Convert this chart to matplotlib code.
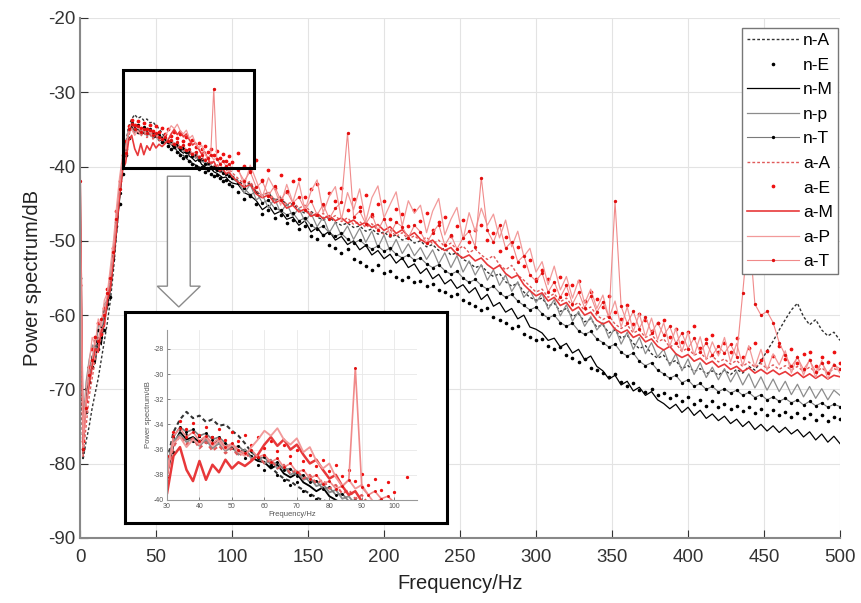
import matplotlib
matplotlib.use("Agg")
import matplotlib.pyplot as plt
from matplotlib.patches import Rectangle, FancyArrow

plt.rcParams['font.family'] = ['Liberation Sans', 'DejaVu Sans']
plt.rcParams['axes.unicode_minus'] = False

# Frequency grid (Hz)
freq = [0, 2, 4, 6, 8, 10, 12, 14, 16, 18, 20, 22, 24, 26, 28, 30, 32, 34, 36, 38,
        40, 42, 44, 46, 48, 50, 52, 54, 56, 58, 60, 62, 64, 66, 68, 70, 72, 74, 76, 78,
        80, 82, 84, 86, 88, 90, 92, 94, 96, 98, 100,
        104, 108, 112, 116, 120, 124, 128, 132, 136, 140,
        144, 148, 152, 156, 160, 164, 168, 172, 176, 180,
        184, 188, 192, 196, 200, 204, 208, 212, 216, 220,
        224, 228, 232, 236, 240, 244, 248, 252, 256, 260,
        264, 268, 272, 276, 280, 284, 288, 292, 296, 300,
        304, 308, 312, 316, 320, 324, 328, 332, 336, 340,
        344, 348, 352, 356, 360, 364, 368, 372, 376, 380,
        384, 388, 392, 396, 400, 404, 408, 412, 416, 420,
        424, 428, 432, 436, 440, 444, 448, 452, 456, 460,
        464, 468, 472, 476, 480, 484, 488, 492, 496, 500]

n_A = [-62, -79.5, -77, -75, -72.5, -70.5, -68.5, -66, -63.5, -61, -58, -54, -49, -44, -39.5, -37.0, -34.6, -33.6, -33.0, -33.5,
       -33.3, -33.8, -33.6, -34.1, -34.0, -34.5, -34.9, -35.5, -36.2, -36.6, -37.0, -37.4, -37.9, -38.3, -38.5, -38.9, -39.2, -39.5, -39.8, -40.0,
       -40.2, -40.1, -40.4, -40.3, -40.6, -40.5, -40.8, -40.7, -41.0, -40.9, -41.2,
       -41.9, -42.6, -42.2, -43.4, -43.9, -43.5, -44.6, -44.2, -45.2, -45.0,
       -45.8, -46.3, -46.0, -46.8, -47.2, -46.8, -47.5, -47.9, -47.6, -48.2,
       -48.0, -48.7, -48.4, -49.1, -48.8, -49.5, -49.2, -49.9, -49.6, -50.3,
       -50.0, -50.8, -50.5, -51.3, -51.0, -51.9, -51.6, -52.5, -52.9, -53.6,
       -53.3, -54.2, -54.8, -54.4, -55.5, -56.1, -55.7, -56.9, -57.6, -58.0,
       -57.7, -58.8, -58.4, -59.5, -59.1, -60.2, -59.8, -60.9, -60.5, -61.6,
       -61.3, -62.4, -62.0, -63.1, -62.7, -63.8, -64.5, -64.1, -65.2, -65.8,
       -65.4, -66.5, -66.1, -67.2, -66.8, -67.6, -67.2, -67.9, -67.5, -68.1,
       -67.4, -68.0, -67.3, -67.8, -66.9, -67.4, -66.2, -64.8, -63.5, -62.0,
       -60.6, -59.3, -58.4, -60.2, -61.3, -60.6, -62.0, -62.8, -62.3, -63.4]

n_E = [-55, -78, -73, -69, -67, -64, -64.5, -61.5, -62, -58.5, -57.5, -52.5, -48, -45, -41, -38.5, -36.2, -34.4, -34.8, -35.3,
       -34.9, -35.4, -35.0, -35.5, -35.9, -35.6, -36.3, -36.7, -36.5, -37.2, -37.6, -37.3, -38.0, -38.4, -38.8, -38.6, -39.3, -39.6, -39.9, -40.3,
       -40.1, -40.7, -40.5, -41.0, -41.3, -41.1, -41.6, -42.0, -41.8, -42.4, -42.6,
       -43.4, -44.3, -43.9, -45.1, -46.4, -45.8, -46.9, -46.5, -47.6, -47.2,
       -48.4, -48.0, -49.3, -49.8, -49.2, -50.5, -50.9, -51.6, -51.1, -52.4,
       -52.9, -53.4, -53.9, -53.2, -54.3, -54.0, -54.8, -55.3, -54.9, -55.6,
       -55.4, -56.1, -55.8, -56.6, -56.9, -57.4, -57.1, -57.9, -58.4, -58.8,
       -59.3, -59.0, -60.2, -60.6, -61.1, -61.7, -61.4, -62.5, -62.9, -63.4,
       -63.2, -64.1, -64.6, -64.3, -65.4, -65.8, -66.3, -65.9, -67.1, -67.4,
       -67.8, -68.3, -67.9, -69.0, -69.5, -69.1, -70.1, -70.4, -69.9, -70.8,
       -70.5, -71.2, -70.8, -71.6, -71.0, -71.9, -71.4, -72.2, -71.6, -72.4,
       -71.9, -72.6, -72.2, -72.9, -72.4, -73.2, -72.6, -73.4, -72.8, -73.5,
       -73.0, -73.7, -73.2, -73.9, -73.3, -74.1, -73.5, -74.3, -73.7, -74.0]

n_M = [-51, -77, -71, -68.5, -65.5, -66.5, -63, -64, -60.5, -59, -56.5, -53, -49, -44.5, -40.5, -38, -35.6, -34.6, -35.2, -35.0,
       -35.4, -35.1, -35.6, -35.3, -35.8, -35.6, -36.2, -36.0, -36.6, -36.9, -37.0, -37.5, -37.2, -37.9, -38.2, -37.9, -38.6, -38.9, -39.3, -39.0,
       -39.7, -40.0, -40.3, -40.1, -40.7, -40.9, -41.2, -41.5, -41.4, -41.9, -42.2,
       -42.4, -43.5, -43.9, -44.6, -45.8, -45.2, -46.4, -46.0, -47.1, -46.8,
       -47.9, -47.3, -48.8, -48.2, -49.3, -48.7, -49.9, -49.4, -50.5, -50.0,
       -51.2, -50.6, -51.9, -51.3, -52.4, -51.8, -53.0, -52.3, -53.6, -53.1,
       -54.4, -53.7, -55.1, -54.5, -55.8, -55.2, -56.4, -55.9, -57.0, -56.3,
       -57.9, -57.2, -58.8, -58.3, -59.6, -59.1, -60.5, -60.0, -61.6, -61.9,
       -62.4, -63.4, -63.1, -64.3, -63.8, -65.1, -64.6, -66.0, -65.5, -66.9,
       -67.5, -68.6, -68.1, -69.4, -68.9, -70.2, -69.7, -70.8, -70.3, -71.4,
       -71.9, -72.6, -72.0, -73.1, -72.4, -73.5, -72.8, -73.9, -73.3, -74.2,
       -73.6, -74.6, -74.0, -75.0, -74.3, -75.4, -74.7, -75.6, -74.9, -75.8,
       -75.1, -76.0, -75.4, -76.4, -75.7, -76.8, -76.0, -77.1, -76.3, -77.3]

n_p = [-37, -75, -69, -66, -64, -65, -61.5, -61, -58.5, -58, -54.5, -51, -46.5, -42.5, -39.5, -37.2, -35.3, -34.8, -35.4, -35.1,
       -35.7, -35.2, -35.9, -35.5, -36.1, -35.8, -36.4, -36.0, -36.7, -36.5, -37.1, -36.8, -37.5, -37.3, -38.0, -37.7, -38.4, -38.2, -38.9, -38.7,
       -39.4, -39.2, -39.9, -39.7, -40.4, -40.2, -40.8, -40.6, -41.2, -41.0, -41.6,
       -42.0, -43.6, -42.4, -44.5, -43.8, -45.6, -44.3, -46.2, -45.0, -46.7,
       -45.6, -47.4, -46.3, -48.1, -46.8, -48.9, -47.5, -49.3, -48.0, -49.8,
       -48.3, -50.2, -48.7, -50.9, -49.2, -51.4, -49.8, -51.7, -50.4, -52.0,
       -50.9, -52.5, -51.2, -53.1, -51.6, -53.6, -52.0, -54.2, -52.7, -54.6,
       -53.2, -55.3, -53.9, -56.0, -54.6, -56.8, -55.5, -57.6, -56.6, -58.3,
       -57.1, -59.2, -57.9, -60.1, -58.6, -60.8, -59.5, -61.5, -60.2, -62.0,
       -61.0, -63.1, -61.7, -63.9, -62.3, -64.6, -63.0, -65.2, -63.7, -65.6,
       -64.6, -66.8, -65.2, -67.5, -65.9, -68.0, -66.4, -68.4, -67.0, -68.7,
       -67.2, -69.0, -67.6, -69.4, -67.9, -69.8, -68.3, -70.1, -68.6, -70.3,
       -68.9, -70.7, -69.3, -71.0, -69.6, -71.2, -69.9, -71.4, -70.1, -70.8]

n_T = [-50, -76, -70, -67, -66, -63.5, -62, -63, -59.5, -58, -55.5, -52, -47.5, -43.5, -40, -37.6, -35.0, -34.2, -34.6, -34.4,
       -34.9, -34.7, -35.2, -35.0, -35.5, -35.9, -35.7, -36.2, -36.1, -36.7, -36.6, -37.2, -37.0, -37.6, -37.5, -38.1, -38.0, -38.6, -38.5, -39.1,
       -39.0, -39.6, -39.5, -40.1, -40.0, -40.5, -40.4, -40.9, -41.0, -41.3, -41.6,
       -42.2, -42.9, -43.8, -43.4, -44.9, -44.5, -45.6, -45.9, -46.5, -46.2,
       -47.3, -46.9, -47.9, -48.4, -48.0, -48.9, -49.4, -49.0, -49.8, -50.3,
       -49.9, -50.6, -51.1, -50.7, -51.4, -51.0, -51.8, -52.3, -51.9, -52.6,
       -52.3, -53.1, -53.6, -53.2, -54.0, -54.5, -54.1, -55.0, -55.6, -55.2,
       -56.0, -56.5, -56.1, -57.0, -57.6, -57.2, -58.1, -58.7, -59.3, -58.9,
       -59.8, -60.4, -60.0, -61.0, -61.5, -61.1, -62.1, -62.6, -62.2, -63.2,
       -63.7, -64.3, -63.9, -65.0, -65.5, -65.1, -66.2, -66.8, -66.4, -67.4,
       -67.9, -68.5, -68.1, -69.1, -68.7, -69.6, -69.2, -70.0, -69.6, -70.3,
       -69.9, -70.5, -70.1, -70.8, -70.4, -71.1, -70.7, -71.4, -71.0, -71.6,
       -71.2, -71.8, -71.4, -72.1, -71.6, -72.2, -71.8, -72.4, -72.0, -72.3]

a_A = [-58, -79, -75, -71, -68.5, -66, -64, -63, -61, -58.5, -56, -52.5, -48, -43.5, -40, -38.0, -35.8, -34.9, -35.6, -35.1,
       -35.9, -35.4, -36.1, -35.7, -36.3, -35.9, -36.5, -36.2, -36.8, -36.5, -37.1, -36.8, -37.5, -37.2, -37.9, -37.6, -38.3, -38.0, -38.7, -38.4,
       -39.1, -38.8, -39.5, -39.2, -39.9, -39.6, -40.3, -40.0, -40.6, -40.3, -40.8,
       -41.6, -42.4, -42.0, -43.3, -43.9, -43.4, -44.5, -44.0, -45.1, -44.7,
       -45.6, -45.2, -46.2, -46.8, -46.3, -47.1, -46.6, -47.4, -46.9, -47.8,
       -47.4, -48.2, -47.7, -48.6, -49.1, -48.5, -49.4, -48.9, -49.8, -49.3,
       -50.0, -49.5, -50.4, -49.9, -50.8, -50.3, -51.2, -50.7, -51.6, -51.1,
       -51.9, -52.5, -52.0, -53.2, -53.9, -53.3, -54.6, -55.3, -56.1, -56.9,
       -56.5, -57.6, -57.1, -58.2, -57.7, -58.8, -58.3, -59.4, -58.9, -60.0,
       -60.6, -60.1, -61.2, -61.8, -61.3, -62.4, -62.0, -63.0, -62.6, -63.6,
       -63.2, -64.3, -63.8, -64.9, -64.4, -65.4, -65.0, -65.9, -65.5, -66.3,
       -65.9, -66.6, -66.1, -66.9, -66.3, -67.0, -66.5, -67.2, -66.7, -67.3,
       -66.8, -67.4, -66.9, -67.6, -67.0, -67.7, -67.1, -67.8, -67.2, -67.5]

a_E = [-56, -77, -71.5, -67, -64.5, -63, -61, -62.5, -59, -56.5, -55, -51, -46, -42, -38.5, -36.5, -34.6, -33.7, -34.4, -33.9,
       -34.8, -34.2, -35.0, -34.4, -35.2, -34.6, -35.3, -34.8, -35.6, -35.0, -35.9, -35.3, -36.1, -35.6, -36.5, -36.0, -36.9, -36.4, -37.3, -36.8,
       -37.7, -37.2, -38.1, -37.6, -38.5, -37.9, -38.8, -38.3, -39.2, -38.6, -39.4,
       -38.2, -39.9, -40.6, -39.1, -41.8, -40.4, -42.9, -41.2, -43.4, -42.0,
       -41.7, -44.1, -43.0, -42.4, -45.2, -43.6, -44.7, -42.9, -45.9, -44.3,
       -45.4, -43.8, -46.6, -45.0, -44.6, -47.1, -45.7, -46.4, -48.0, -45.9,
       -47.3, -46.2, -48.6, -47.5, -46.8, -49.4, -48.0, -47.2, -50.1, -48.6,
       -47.8, -49.9, -48.9, -51.3, -49.5, -52.2, -50.8, -53.4, -52.6, -55.2,
       -53.9, -55.1, -56.6, -54.8, -57.2, -56.0, -55.4, -58.1, -56.9, -57.8,
       -58.9, -57.4, -59.6, -60.5, -58.7, -61.2, -59.9, -60.6, -62.1, -61.0,
       -60.6, -62.9, -61.9, -63.6, -62.3, -61.5, -64.4, -63.2, -62.7, -65.0,
       -63.8, -64.9, -63.1, -65.6, -64.4, -63.7, -66.1, -64.8, -65.5, -64.2,
       -65.9, -64.6, -66.5, -65.2, -64.9, -66.8, -65.6, -66.3, -65.0, -66.4]

a_M = [-39, -77.5, -72, -69.5, -67, -64.5, -65, -62, -61.5, -58, -56.5, -52.5, -48.5, -44, -40.5, -39.5, -36.5, -35.8, -37.6, -38.5,
       -36.9, -38.4, -37.2, -37.8, -36.8, -37.5, -37.0, -37.3, -36.9, -36.4, -35.6, -35.0, -35.7, -35.2, -36.0, -35.6, -36.4, -37.1, -36.8, -37.6,
       -38.3, -38.0, -38.9, -39.6, -39.3, -40.1, -40.6, -40.3, -41.0, -40.7, -41.3,
       -42.1, -42.8, -42.4, -43.7, -44.2, -43.8, -44.9, -44.5, -45.6, -45.2,
       -46.1, -45.7, -46.7, -46.3, -47.0, -46.6, -47.3, -46.9, -47.6, -47.2,
       -47.9, -47.5, -48.2, -47.8, -48.6, -48.1, -49.0, -48.5, -49.4, -48.9,
       -49.8, -50.3, -49.9, -50.8, -51.3, -50.9, -51.8, -52.3, -51.9, -52.7,
       -52.3, -53.2, -53.8, -53.3, -54.4, -55.0, -54.6, -55.9, -56.7, -57.4,
       -57.0, -58.1, -57.6, -58.7, -58.3, -59.4, -58.9, -60.0, -59.6, -60.7,
       -61.2, -60.8, -61.9, -62.4, -62.0, -63.0, -62.6, -63.6, -63.2, -64.2,
       -64.7, -64.2, -65.2, -65.7, -65.3, -66.2, -65.8, -66.6, -66.2, -67.0,
       -66.6, -67.3, -66.9, -67.6, -67.1, -67.8, -67.3, -67.9, -67.4, -68.0,
       -67.6, -68.2, -67.7, -68.4, -67.9, -68.5, -68.0, -68.6, -68.1, -68.3]

a_P = [-45, -76, -70, -66.5, -63, -64, -60.5, -61.5, -58, -57, -53.5, -50, -45.5, -41.5, -38.5, -37.5, -35.5, -35.0, -35.8, -35.2,
       -35.6, -35.0, -35.7, -35.3, -36.0, -35.6, -36.2, -36.5, -35.8, -35.2, -34.5, -34.9, -34.3, -35.2, -35.6, -35.1, -36.2, -35.8, -36.9, -37.5,
       -37.1, -38.2, -38.9, -38.4, -39.1, -38.8, -39.6, -40.3, -39.9, -40.7, -40.2,
       -40.2, -42.6, -39.8, -41.9, -44.1, -41.5, -43.0, -45.2, -42.4, -44.8,
       -42.1, -45.9, -43.3, -41.8, -46.2, -44.0, -42.7, -47.1, -43.5, -45.8,
       -43.0, -47.4, -44.2, -42.6, -46.9, -45.1, -43.4, -48.0, -44.6, -46.3,
       -45.2, -48.9, -46.0, -44.3, -49.2, -47.1, -45.5, -49.8, -46.2, -48.7,
       -45.6, -47.9, -46.4, -49.6, -47.2, -50.8, -48.7, -52.1, -51.0, -54.2,
       -52.8, -55.9, -53.4, -56.6, -54.8, -57.7, -55.3, -58.4, -56.5, -59.1,
       -57.3, -60.4, -58.1, -61.6, -58.9, -62.2, -59.8, -62.9, -60.4, -63.3,
       -61.0, -64.2, -61.8, -64.9, -62.3, -65.4, -62.9, -66.0, -63.6, -65.5,
       -63.0, -66.3, -63.8, -66.8, -64.1, -67.0, -64.6, -67.4, -65.2, -66.7,
       -64.8, -67.8, -65.5, -68.1, -65.9, -68.4, -66.1, -68.6, -66.5, -67.8]

a_T = [-42, -78, -72.5, -68, -66, -63, -63.5, -60.5, -60, -57, -55, -51.5, -47, -43, -39.5, -38.2, -34.9, -34.3, -35.0, -34.6,
       -35.3, -34.9, -35.5, -35.1, -35.8, -35.5, -36.0, -36.3, -36.0, -36.6, -36.4, -37.0, -36.7, -37.4, -37.1, -37.8, -37.6, -38.3, -38.0, -38.7,
       -38.5, -39.1, -38.9, -38.4, -29.5, -39.0, -39.6, -39.3, -39.9, -39.7, -40.2,
       -40.5, -41.9, -40.7, -42.8, -42.0, -43.9, -42.6, -44.5, -43.3, -44.9,
       -44.1, -45.8, -44.6, -46.5, -45.1, -47.0, -45.6, -44.8, -35.5, -46.8,
       -46.0, -47.7, -46.4, -48.6, -47.0, -49.2, -47.5, -48.1, -49.6, -47.9,
       -48.8, -50.3, -48.9, -47.8, -50.6, -49.2, -51.1, -49.6, -48.7, -50.8,
       -41.5, -48.6, -50.2, -47.9, -51.0, -50.1, -52.8, -52.0, -54.6, -55.4,
       -54.3, -56.9, -55.5, -57.6, -56.0, -58.5, -56.9, -59.0, -57.4, -59.6,
       -58.2, -60.3, -44.7, -58.8, -61.1, -59.5, -61.8, -60.2, -62.4, -61.0,
       -62.7, -61.5, -63.8, -62.4, -64.5, -63.1, -65.0, -63.7, -65.4, -64.2,
       -65.1, -63.9, -65.6, -57.0, -48.0, -58.5, -60.0, -59.5, -61.0, -63.7,
       -65.4, -66.9, -65.7, -67.3, -66.1, -67.6, -66.4, -67.8, -66.7, -67.2]

labels = ['n-A', 'n-E', 'n-M', 'n-p', 'n-T', 'a-A', 'a-E', 'a-M', 'a-P', 'a-T']
series = [n_A, n_E, n_M, n_p, n_T, a_A, a_E, a_M, a_P, a_T]
styles = [
    dict(color='#333333', ls=(0, (2, 1.5)), lw=1.0),
    dict(color='black', ls='none', marker='.', ms=3.2),
    dict(color='black', ls='-', lw=0.9),
    dict(color='#8c8c8c', ls='-', lw=0.9),
    dict(color='#7a7a7a', ls='-', lw=0.8, marker='.', ms=2.8, mfc='black', mec='black'),
    dict(color='#e05a5a', ls=(0, (2, 1.5)), lw=1.0),
    dict(color='#ee1111', ls='none', marker='.', ms=3.4),
    dict(color='#e8383a', ls='-', lw=1.2),
    dict(color='#f29a9a', ls='-', lw=0.9),
    dict(color='#f08a8a', ls='-', lw=0.8, marker='.', ms=2.8, mfc='#e01010', mec='#e01010'),
]

fig = plt.figure(figsize=(8.61, 6.03), dpi=100)
ax = fig.add_axes([80 / 861, 1 - 538 / 603, 760 / 861, 520 / 603])

for y, lab, st in zip(series, labels, styles):
    ax.plot(freq, y, label=lab, **st)

ax.set_xlim(0, 500)
ax.set_ylim(-90, -20)
ax.set_xticks(range(0, 501, 50))
ax.set_yticks(range(-90, -19, 10))
ax.grid(True, color='#e3e3e3', lw=0.8)
ax.set_axisbelow(True)
for s in ['top', 'right']:
    ax.spines[s].set_visible(False)
for s in ['left', 'bottom']:
    ax.spines[s].set_color('#888888')
    ax.spines[s].set_linewidth(1.5)
ax.tick_params(direction='in', length=6, labelsize=13.5, colors='#333333', width=0.8)
ax.tick_params(axis='x', pad=8)
ax.set_xlabel('Frequency/Hz', fontsize=14.5, color='#222222', labelpad=6)
ax.set_ylabel('Power spectrum/dB', fontsize=14.5, color='#222222', labelpad=4)

leg = ax.legend(loc='upper right', bbox_to_anchor=(838 / 861, 1 - 28 / 603),
                bbox_transform=fig.transFigure, fontsize=12.5, handlelength=3.0,
                handletextpad=0.2, labelspacing=0.54, borderpad=0.3,
                fancybox=False, framealpha=1, edgecolor='#777777', borderaxespad=0)
leg.get_frame().set_linewidth(1.0)

# zoom rectangle
ax.add_patch(Rectangle((28.3, -40.2), 86.2, 13.2, fill=False, ec='black', lw=2.2, zorder=5))
# hollow arrow
ax.add_patch(FancyArrow(65.0, -41.3, 0, -17.6, width=15.0, head_width=28.3,
                        head_length=2.8, length_includes_head=True,
                        fc='white', ec='#8a8a8a', lw=1.0, zorder=5))

# inset frame
axb = fig.add_axes([125 / 861, 1 - 523 / 603, 322 / 861, 211 / 603])
axb.set_xticks([])
axb.set_yticks([])
for s in axb.spines.values():
    s.set_linewidth(2.2)
    s.set_color('black')
axb.set_zorder(3)

axi = fig.add_axes([167 / 861, 1 - 500 / 603, 250 / 861, 170 / 603])
axi.set_zorder(4)
for y, st in zip(series, styles):
    st2 = dict(st)
    if 'lw' in st2:
        st2['lw'] = st2['lw'] * 1.5
    if 'ms' in st2:
        st2['ms'] = st2['ms'] * 0.8
    axi.plot(freq, y, **st2)
axi.set_xlim(30, 107)
axi.set_ylim(-40, -26.5)
axi.set_xticks(range(30, 101, 10))
axi.set_yticks(range(-40, -27, 2))
axi.grid(True, color='#e8e8e8', lw=0.6)
for s in ['top', 'right']:
    axi.spines[s].set_visible(False)
for s in ['left', 'bottom']:
    axi.spines[s].set_color('#999999')
    axi.spines[s].set_linewidth(0.8)
axi.tick_params(direction='in', length=2, labelsize=5, colors='#555555', width=0.5, pad=2)
axi.set_xlabel('Frequency/Hz', fontsize=5.5, color='#555555', labelpad=1)
axi.set_ylabel('Power spectrum/dB', fontsize=5.5, color='#555555', labelpad=1)

fig.savefig('out.png', dpi=100)
